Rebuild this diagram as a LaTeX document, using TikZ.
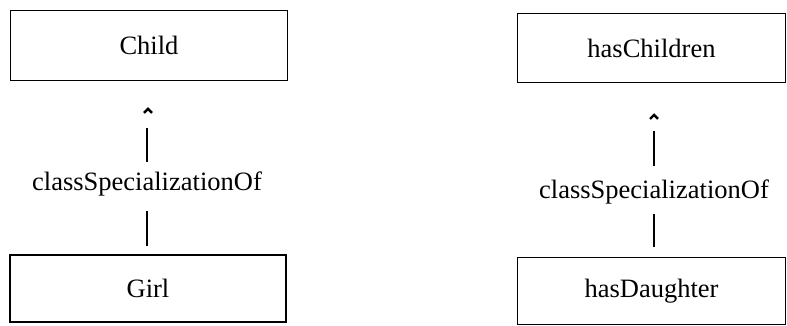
\documentclass[tikz,border=0pt]{standalone}
\usepackage{fontspec}
\setmainfont{Liberation Serif}

\begin{document}
\begin{tikzpicture}[x=1pt, y=1pt, line width=2.4pt]
	% Stile per le classi e per le etichette delle relazioni
	\tikzset{classe/.style={rectangle, draw, line width=1.9pt, inner sep=0pt, font=\fontsize{26.5}{30}\selectfont},
		rel/.style={inner sep=2pt, text height=18pt, text depth=6pt, font=\fontsize{26.5}{30}\selectfont},
		punta/.style={line width=2.4pt, line join=miter}}
	\useasboundingbox (0,0) rectangle (787,326);
	
	% Classi a sinistra
	\node[classe, minimum width=277pt, minimum height=70pt] (Child) at (149,280.5) {Child};
	\node[classe, minimum width=276pt, minimum height=67pt] (Girl) at (148,37.5) {Girl};
	\node[rel] (relA) at (147,141) {classSpecializationOf};
	
	% Proprieta a destra
	\node[classe, minimum width=268pt, minimum height=69pt] (hasChildren) at (651.5,278) {hasChildren};
	\node[classe, minimum width=268pt, minimum height=67pt] (hasDaughter) at (651.5,35) {hasDaughter};
	\node[rel] (relB) at (654,133) {classSpecializationOf};
	
	% Collegamenti
	\draw[shorten <=8pt, shorten >=11pt] (Girl.north -| relA) -- (relA.south);
	\draw[shorten <=8pt, shorten >=46.5pt] (relA.north) -- (Child.south -| relA) coordinate (topA);
	\draw[punta] (topA) ++(1,-27.5) ++(-4,-4) -- ++(4,4) -- ++(4,-4);
	\draw[shorten <=9.5pt, shorten >=6pt] (hasDaughter.north -| relB) -- (relB.south);
	\draw[shorten <=12pt, shorten >=47.5pt] (relB.north) -- (hasChildren.south -| relB) coordinate (topB);
	\draw[punta] (topB) ++(0,-31.5) ++(-4,-4) -- ++(4,4) -- ++(4,-4);
\end{tikzpicture}
\end{document}
